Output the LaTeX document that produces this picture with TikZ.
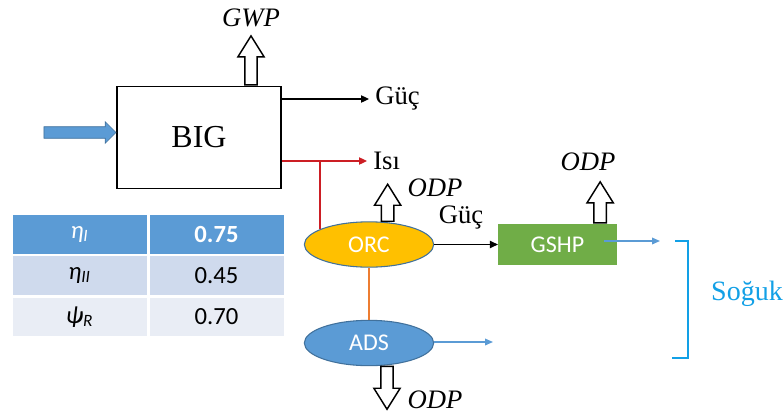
\documentclass[tikz,border=0pt]{standalone}
\usepackage{fontspec}
\setmainfont{Liberation Serif}
\newfontfamily\calibri{Carlito}
\usetikzlibrary{arrows.meta,positioning,shapes.geometric,shapes.arrows}

\definecolor{officeblue}{RGB}{91,155,213}
\definecolor{officeedge}{RGB}{65,113,156}
\definecolor{officegold}{RGB}{255,192,0}
\definecolor{officegreen}{RGB}{112,173,71}
\definecolor{officeorange}{RGB}{237,125,49}
\definecolor{heatred}{RGB}{204,30,36}
\definecolor{coldcyan}{RGB}{18,160,230}
\definecolor{rowdark}{RGB}{207,218,237}
\definecolor{rowlight}{RGB}{233,237,245}

\begin{document}
\begin{tikzpicture}[
  x=0.75pt,y=0.75pt,
  lbl/.style={font=\fontsize{20}{24}\selectfont,inner sep=0pt},
  unit/.style={ellipse,draw=officeedge,line width=0.8pt,minimum width=97pt,minimum height=34pt,inner sep=0pt,text=white,font=\calibri\fontsize{18}{22}\selectfont},
  emit/.style={single arrow,draw,fill=white,line width=1.1pt,inner sep=0pt,inner ysep=4.1pt,single arrow head extend=5.2pt,single arrow tip angle=64,anchor=tail},
  feed/.style={single arrow,draw=officeedge,fill=officeblue,line width=0.5pt,inner sep=0pt,inner ysep=4.1pt,single arrow head extend=3.75pt,single arrow tip angle=90,anchor=tip},
  cell/.style={rectangle,minimum width=100.5pt,minimum height=29pt,inner sep=0pt,font=\calibri\fontsize{18.5}{22}\selectfont},
  arr/.style={-{Triangle[length=6pt,width=5.5pt]},line width=0.9pt},
  coldarr/.style={-{Triangle[length=6pt,width=5pt]},line width=1pt,officeblue}
]
\useasboundingbox (0,0) rectangle (783,419);

% main plant
\node[draw,line width=0.8pt,minimum width=123pt,minimum height=77pt,font=\fontsize{24}{28}\selectfont] (big) at (199,281.5) {BIG};
\node[feed,minimum height=54pt] (fuel) at ([yshift=3.75pt]big.west) {};
\node[emit,rotate=90,minimum height=36.75pt] (gwparr) at ([xshift=39pt]big.north) {};
\node[lbl,font=\itshape\fontsize{20}{24}\selectfont] (gwp) at (251,401) {GWP};

% outputs of BIG
\node[lbl,anchor=west,inner xsep=4.5pt] (power) at (369,320) {Güç};
\node[lbl,anchor=west,inner xsep=4.5pt] (heat) at (367,258) {Isı};
\coordinate (split) at (320,258);

% subsystems
\node[unit,fill=officegold] (orc) at (369,174.5) {ORC};
\node[unit,fill=officeblue] (ads) at (369,76) {ADS};
\node[rectangle,fill=officegreen,minimum width=89pt,minimum height=31pt,text=white,font=\calibri\fontsize{18}{22}\selectfont] (gshp) at (557.5,174.5) {GSHP};
\node[lbl] (orcpow) at (461,201) {Güç};

\node[emit,rotate=90,minimum height=27.75pt] (orcarr) at ([xshift=14pt,yshift=-0.5pt]orc.north) {};
\node[lbl,font=\itshape\fontsize{20}{24}\selectfont] (orcodp) at (435,231) {ODP};
\node[emit,rotate=90,minimum height=30.75pt] (gshparr) at ([xshift=32pt]gshp.north) {};
\node[lbl,font=\itshape\fontsize{20}{24}\selectfont] (gshpodp) at (588,257) {ODP};
\node[emit,rotate=-90,minimum height=32.25pt] (adsarr) at ([xshift=13.5pt,yshift=0.5pt]ads.south) {};
\node[lbl,font=\itshape\fontsize{20}{24}\selectfont] (adsodp) at (435,19) {ODP};

\coordinate (gshpout) at (660,178);
\coordinate (adsout) at (493,77);

% connectors
\draw[arr] (big.east |- power) -- (power.west);
\draw[arr,heatred] (big.east |- heat) -- (heat.west);
\draw[heatred,line width=0.9pt] (split) -- (split |- orc.163);
\draw[officeorange,line width=1.3pt] (orc.south) -- (ads.north);
\draw[arr] (orc) -- (gshp);
\draw[coldarr] (gshpout -| 604,0) -- (gshpout);
\draw[coldarr] (ads.east |- adsout) -- (adsout);

% cooling bracket
\draw[coldcyan,line width=1.5pt] (675,178) -- (688,178) -- (688,61) -- (672,61);
\node[lbl,text=coldcyan,font=\fontsize{21}{24}\selectfont] (cold) at (747,125) {Soğuk};

% efficiency table
\node[cell,fill=officeblue,text=white] (h1) at (79.5,184.5) {\itshape η\textsubscript{I}};
\node[cell,fill=officeblue,text=white] (h2) at (216.5,184.5) {\bfseries 0.75};
\node[cell,fill=rowdark] (r1) at (79.5,143.5) {\itshape η\textsubscript{II}};
\node[cell,fill=rowdark] (v1) at (216.5,143.5) {0.45};
\node[cell,fill=rowlight] (r2) at (79.5,102) {\itshape ψ\textsubscript{R}};
\node[cell,fill=rowlight] (v2) at (216.5,102) {0.70};
\end{tikzpicture}
\end{document}
